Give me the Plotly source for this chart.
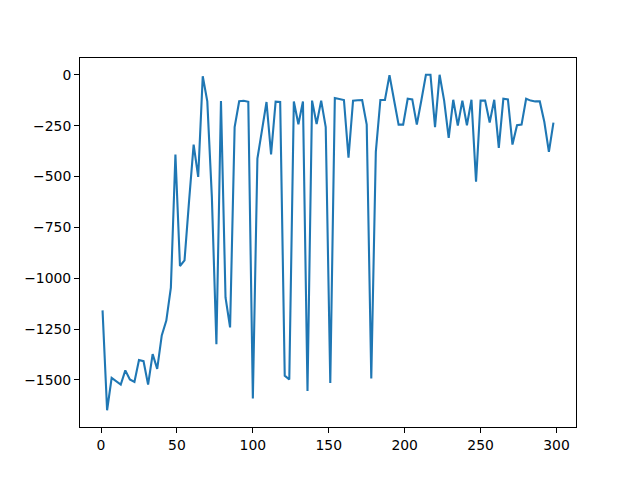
import plotly.graph_objects as go

episodes = list(range(1, 299, 3))

rewards = [
    -1158, -1649, -1490, -1506, -1523, -1453, -1498, -1510, -1402, -1408,
    -1523, -1373, -1446, -1281, -1208, -1046, -392, -940, -912, -620,
    -343, -502, -7, -131, -600, -1324, -129, -1095, -1242, -257,
    -130, -128, -133, -1591, -412, -273, -134, -391, -132, -134,
    -1479, -1498, -131, -243, -131, -1555, -127, -242, -127, -257,
    -1515, -114, -118, -124, -407, -127, -125, -124, -245, -1493,
    -379, -124, -124, -2, -124, -245, -245, -118, -121, -245,
    -125, 0, 0, -257, 0, -127, -310, -123, -250, -127,
    -248, -123, -526, -127, -127, -235, -123, -359, -118, -121,
    -343, -248, -245, -118, -127, -131, -131, -232, -379, -235,
]

x_ticks = [0, 50, 100, 150, 200, 250, 300]
y_ticks = [0, -250, -500, -750, -1000, -1250, -1500]

# page body has an 8px margin, so the plot area is shifted back by that much
fig = go.Figure(
    layout={
        'width': 640,
        'height': 480,
        'paper_bgcolor': 'white',
        'plot_bgcolor': 'white',
        'showlegend': False,
        'font': {'family': 'DejaVu Sans', 'size': 13.9, 'color': 'black'},
        'margin': {'l': 72, 'r': 72, 't': 50, 'b': 61},
    }
)

fig.add_trace(go.Scatter(
    x=episodes, y=rewards,
    mode='lines',
    line={'color': '#1f77b4', 'width': 2.1},
))

axis_style = dict(
    showline=True, linecolor='black', linewidth=1, mirror=True,
    ticks='outside', ticklen=5, tickcolor='black', tickwidth=1,
    showgrid=False, zeroline=False,
)
xmin, xmax = min(episodes), max(episodes)
ymin, ymax = min(rewards), max(rewards)
xpad = (xmax - xmin) * 0.05
ypad = (ymax - ymin) * 0.05
fig.update_xaxes(range=[xmin - xpad, xmax + xpad], tickvals=x_ticks, **axis_style)
fig.update_yaxes(range=[ymin - ypad, ymax + ypad], tickvals=y_ticks, **axis_style)

fig.write_html("out.html")
